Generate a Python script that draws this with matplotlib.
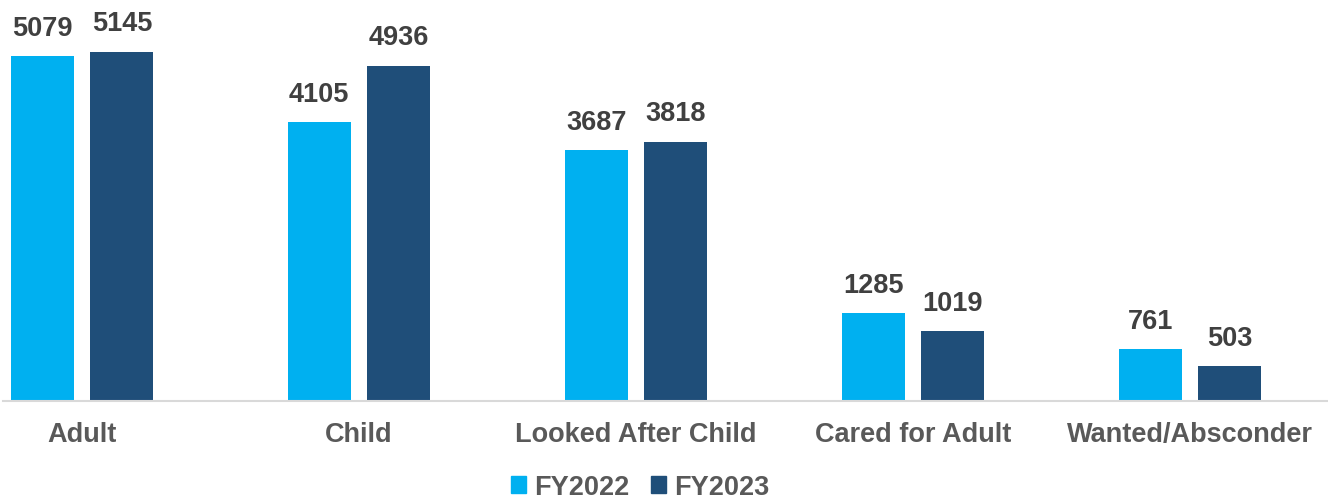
import numpy as np
import matplotlib
matplotlib.use("Agg")
import matplotlib.pyplot as plt
from matplotlib.patches import Patch

plt.rcParams['font.family'] = ['Liberation Sans', 'DejaVu Sans']
plt.rcParams['font.weight'] = 'bold'

categories = ["Adult", "Child", "Looked After Child", "Cared for Adult", "Wanted/Absconder"]
fy2022 = [5079, 4105, 3687, 1285, 761]
fy2023 = [5145, 4936, 3818, 1019, 503]
series_names = ["FY2022", "FY2023"]
colors = ["#00B0F0", "#1F4E79"]

fig = plt.figure(figsize=(13.28, 5.02), dpi=100)
ax = fig.add_axes([0, 0.2, 1, 0.8])

x = np.arange(len(categories))
w = 0.227
off = 0.144
b1 = ax.bar(x - off, fy2022, w, color=colors[0])
b2 = ax.bar(x + off, fy2023, w, color=colors[1])
ax.bar_label(b1, padding=11, fontsize=19.5, color="#404040", fontweight="bold")
ax.bar_label(b2, padding=11, fontsize=19.5, color="#404040", fontweight="bold")

ax.set_xlim(-0.296, 4.498)
ax.set_ylim(0, 5920)
ax.set_xticks(x)
ax.set_xticklabels(categories, fontsize=19.5, color="#595959", fontweight="bold")
ax.tick_params(axis="x", length=0, pad=15)
ax.set_yticks([])
for s in ["top", "right", "left"]:
    ax.spines[s].set_visible(False)
ax.spines["bottom"].set_color("#d9d9d9")
ax.spines["bottom"].set_linewidth(1.5)
ax.spines["bottom"].set_bounds(-0.285, 4.498)

handles = [Patch(color=c) for c in colors]
fig.legend(handles, series_names, loc="center", bbox_to_anchor=(0.482, 0.028), ncol=2,
           frameon=False, fontsize=19.5, labelcolor="#595959", handlelength=0.55,
           handleheight=0.55, handletextpad=0.3, columnspacing=0.8)

fig.savefig("out.png", dpi=100)
